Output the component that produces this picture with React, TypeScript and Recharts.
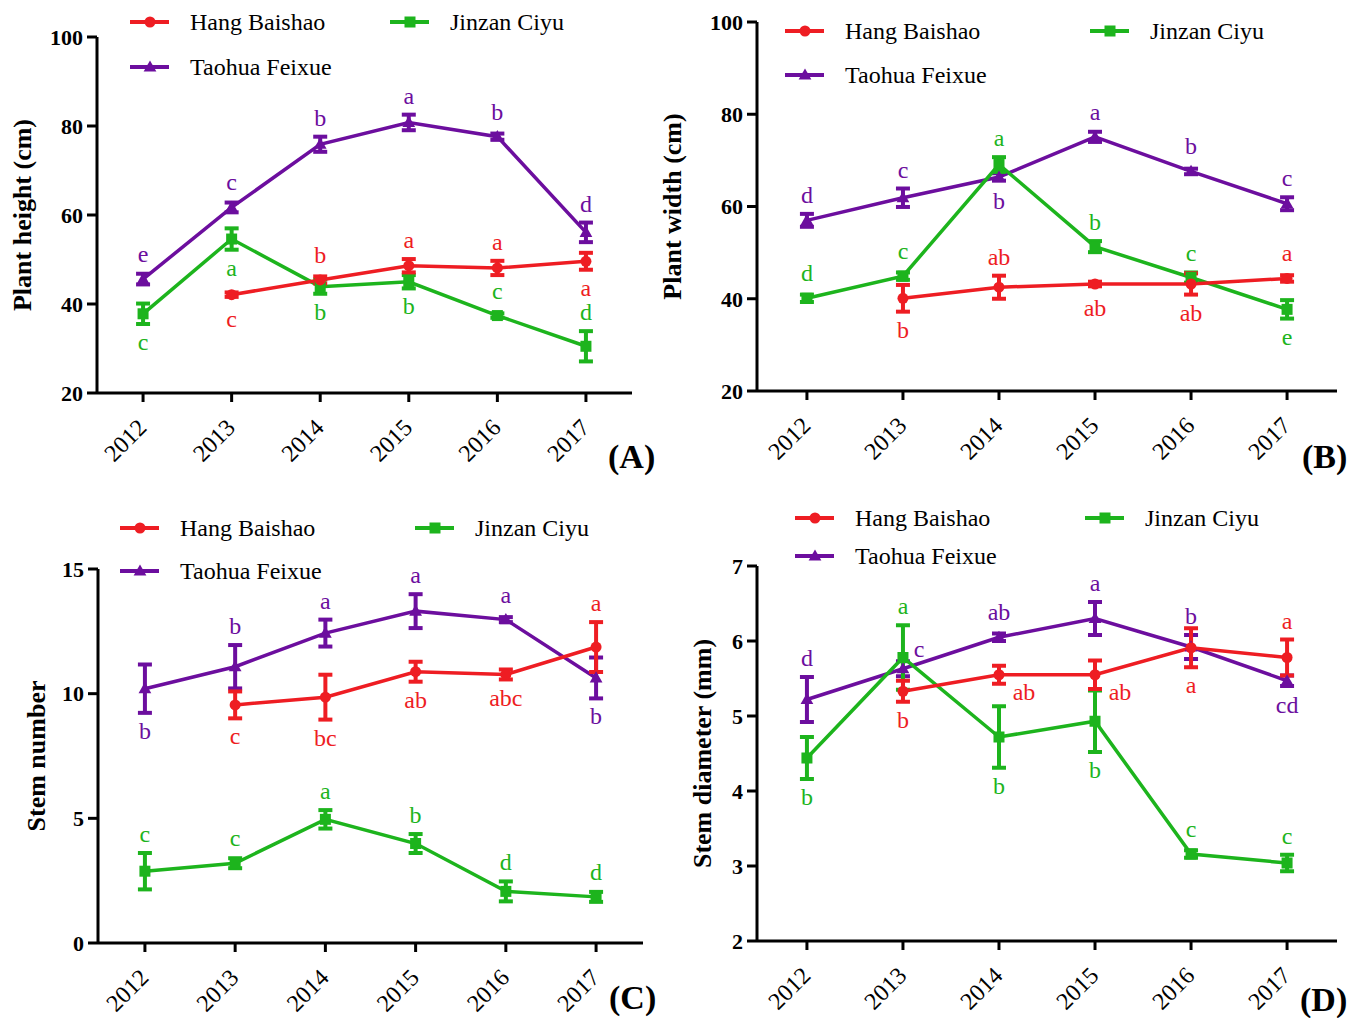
import React from 'react';
import { LineChart, Line, XAxis, YAxis, ErrorBar, LabelList, Legend, Label } from 'recharts';

// ---------- data ----------
const years = [2012, 2013, 2014, 2015, 2016, 2017];
const seriesNames = ['Hang Baishao', 'Jinzan Ciyu', 'Taohua Feixue'];

// (A) Plant height (cm)
const heightTicks = [20, 40, 60, 80, 100];
const heightHang = [null, 42.1, 45.4, 48.6, 48.1, 49.6];
const heightHangErr = [null, 0.5, 0.8, 1.5, 1.6, 1.9];
const heightHangLetters = ['', 'c', 'b', 'a', 'a', 'a'];
const heightHangSide = ['', 'b', 't', 't', 't', 'b'];
const heightJin = [37.8, 54.6, 43.9, 45.0, 37.4, 30.5];
const heightJinErr = [2.3, 2.4, 1.6, 1.5, 0.5, 3.4];
const heightJinLetters = ['c', 'a', 'b', 'b', 'c', 'd'];
const heightJinSide = ['b', 'b', 'b', 'b', 't', 't'];
const heightTao = [45.6, 61.7, 75.9, 80.8, 77.6, 56.1];
const heightTaoErr = [1.2, 1.1, 1.7, 1.75, 0.7, 2.2];
const heightTaoLetters = ['e', 'c', 'b', 'a', 'b', 'd'];
const heightTaoSide = ['t', 't', 't', 't', 't', 't'];

// (B) Plant width (cm)
const widthTicks = [20, 40, 60, 80, 100];
const widthHang = [null, 40.1, 42.5, 43.2, 43.2, 44.4];
const widthHangErr = [null, 2.9, 2.5, 0.5, 2.3, 0.7];
const widthHangLetters = ['', 'b', 'ab', 'ab', 'ab', 'a'];
const widthHangSide = ['', 'b', 't', 'b', 'b', 't'];
const widthJin = [40.1, 44.9, 69.1, 51.3, 44.6, 37.7];
const widthJinErr = [0.8, 0.8, 1.6, 1.2, 1.1, 2.0];
const widthJinLetters = ['d', 'c', 'a', 'b', 'c', 'e'];
const widthJinSide = ['t', 't', 't', 't', 't', 'b'];
const widthTao = [57.0, 61.9, 66.4, 75.1, 67.6, 60.6];
const widthTaoErr = [1.4, 2.0, 0.8, 1.1, 0.6, 1.4];
const widthTaoLetters = ['d', 'c', 'b', 'a', 'b', 'c'];
const widthTaoSide = ['t', 't', 'b', 't', 't', 't'];

// (C) Stem number
const stemTicks = [0, 5, 10, 15];
const stemHang = [null, 9.55, 9.86, 10.88, 10.77, 11.87];
const stemHangErr = [null, 0.54, 0.9, 0.4, 0.2, 1.0];
const stemHangLetters = ['', 'c', 'bc', 'ab', 'abc', 'a'];
const stemHangSide = ['', 'b', 'b', 'b', 'b', 't'];
const stemJin = [2.88, 3.2, 4.96, 3.99, 2.07, 1.85];
const stemJinErr = [0.73, 0.2, 0.37, 0.38, 0.4, 0.2];
const stemJinLetters = ['c', 'c', 'a', 'b', 'd', 'd'];
const stemJinSide = ['t', 't', 't', 't', 't', 't'];
const stemTao = [10.2, 11.08, 12.43, 13.31, 12.97, 10.63];
const stemTaoErr = [0.97, 0.87, 0.54, 0.68, 0.1, 0.82];
const stemTaoLetters = ['b', 'b', 'a', 'a', 'a', 'b'];
const stemTaoSide = ['b', 't', 't', 't', 't', 'b'];

// (D) Stem diameter (mm)
const diamTicks = [2, 3, 4, 5, 6, 7];
const diamHang = [null, 5.33, 5.55, 5.55, 5.91, 5.78];
const diamHangErr = [null, 0.14, 0.12, 0.19, 0.26, 0.24];
const diamHangLetters = ['', 'b', 'ab', 'ab', 'a', 'a'];
const diamHangSide = ['', 'b', 'dr', 'dr', 'b', 't'];
const diamJin = [4.44, 5.78, 4.72, 4.93, 3.16, 3.04];
const diamJinErr = [0.28, 0.43, 0.41, 0.41, 0.05, 0.11];
const diamJinLetters = ['b', 'a', 'b', 'b', 'c', 'c'];
const diamJinSide = ['b', 't', 'b', 'b', 't', 't'];
const diamTao = [5.22, 5.63, 6.05, 6.3, 5.92, 5.47];
const diamTaoErr = [0.3, 0.1, 0.05, 0.22, 0.16, 0.07];
const diamTaoLetters = ['d', 'c', 'ab', 'a', 'b', 'cd'];
const diamTaoSide = ['t', 'ur', 't', 't', 't', 'b'];

// ---------- styles ----------
const FONT = "'Liberation Serif', 'Times New Roman', serif";
const RED = '#EE1D23';
const GREEN = '#1DB41D';
const PURPLE = '#6C0E9E';
const X_DOMAIN = [2011.48, 2017.52];
const X_AXIS_H = 70;
const Y_AXIS_W = 60;

type Row = Record<string, any>;

function buildRows(
  h: (number | null)[], he: (number | null)[], hl: string[], hs: string[],
  j: number[], je: number[], jl: string[], js: string[],
  t: number[], te: number[], tl: string[], ts: string[],
): Row[] {
  return years.map((year, i) => ({
    year,
    hang: h[i], hangErr: he[i], hangLbl: hl[i], hangSide: hs[i],
    jin: j[i], jinErr: je[i], jinLbl: jl[i], jinSide: js[i],
    tao: t[i], taoErr: te[i], taoLbl: tl[i], taoSide: ts[i],
  }));
}

const SERIES = [
  { key: 'hang', name: seriesNames[0], color: RED, shape: 'circle' },
  { key: 'jin', name: seriesNames[1], color: GREEN, shape: 'square' },
  { key: 'tao', name: seriesNames[2], color: PURPLE, shape: 'triangle' },
];

const PANELS = [
  {
    id: 'A', title: 'Plant height (cm)', yDomain: [20, 100], yTicks: heightTicks,
    rows: buildRows(heightHang, heightHangErr, heightHangLetters, heightHangSide,
      heightJin, heightJinErr, heightJinLetters, heightJinSide,
      heightTao, heightTaoErr, heightTaoLetters, heightTaoSide),
    left: 0, top: 0, width: 670, height: 490,
    margin: { top: 37, right: 38, bottom: 27, left: 37 }, titleX: 22,
    legend: { left: 130, top: 7, col: 260, row: 45 }, tag: { left: 608, top: 440 },
  },
  {
    id: 'B', title: 'Plant width (cm)', yDomain: [20, 100], yTicks: widthTicks,
    rows: buildRows(widthHang, widthHangErr, widthHangLetters, widthHangSide,
      widthJin, widthJinErr, widthJinLetters, widthJinSide,
      widthTao, widthTaoErr, widthTaoLetters, widthTaoSide),
    left: 650, top: 0, width: 701, height: 490,
    margin: { top: 22, right: 14, bottom: 29, left: 47 }, titleX: 22,
    legend: { left: 135, top: 16, col: 305, row: 44 }, tag: { left: 1302, top: 440 },
  },
  {
    id: 'C', title: 'Stem number', yDomain: [0, 15], yTicks: stemTicks,
    rows: buildRows(stemHang, stemHangErr, stemHangLetters, stemHangSide,
      stemJin, stemJinErr, stemJinLetters, stemJinSide,
      stemTao, stemTaoErr, stemTaoLetters, stemTaoSide),
    left: 0, top: 490, width: 670, height: 528,
    margin: { top: 79, right: 27, bottom: 5, left: 38 }, titleX: 36,
    legend: { left: 120, top: 23, col: 295, row: 43 }, tag: { left: 609, top: 981 },
  },
  {
    id: 'D', title: 'Stem diameter (mm)', yDomain: [2, 7], yTicks: diamTicks,
    rows: buildRows(diamHang, diamHangErr, diamHangLetters, diamHangSide,
      diamJin, diamJinErr, diamJinLetters, diamJinSide,
      diamTao, diamTaoErr, diamTaoLetters, diamTaoSide),
    left: 660, top: 490, width: 691, height: 528,
    margin: { top: 76, right: 14, bottom: 7, left: 37 }, titleX: 42,
    legend: { left: 135, top: 13, col: 290, row: 38 }, tag: { left: 1300, top: 983 },
  },
];

function Marker({ shape, cx, cy, color, s }: any) {
  if (shape === 'circle') return <circle cx={cx} cy={cy} r={s * 0.5} fill={color} />;
  if (shape === 'square') return <rect x={cx - s / 2} y={cy - s / 2} width={s} height={s} fill={color} />;
  return (
    <polygon
      points={`${cx},${cy - s * 0.6} ${cx - s * 0.58},${cy + s * 0.42} ${cx + s * 0.58},${cy + s * 0.42}`}
      fill={color}
    />
  );
}

const makeDot = (shape: string, color: string) => (p: any) => {
  const k = `dot-${shape}-${p.index}`;
  if (p.cx == null || p.cy == null || isNaN(p.cx) || isNaN(p.cy)) return <g key={k} />;
  return (
    <g key={k}>
      <Marker shape={shape} cx={p.cx} cy={p.cy} color={color} s={11} />
    </g>
  );
};

const makeLetters = (rows: Row[], key: string, color: string, ppu: number) => (props: any) => {
  const { x, y, index } = props;
  const row = rows[index];
  if (!row || x == null || y == null || isNaN(x) || isNaN(y)) return null;
  const letter = row[key + 'Lbl'];
  const side = row[key + 'Side'];
  const errPx = Math.max((row[key + 'Err'] ?? 0) * ppu, 6);
  let tx = x;
  let ty = y;
  if (side === 't') ty = y - errPx - 11;
  else if (side === 'b') ty = y + errPx + 26;
  else if (side === 'ur') { tx = x + 16; ty = y - 12; }
  else if (side === 'dr') { tx = x + 25; ty = y + 25; }
  return (
    <text x={tx} y={ty} textAnchor="middle" fill={color} fontFamily={FONT} fontSize={24}>
      {letter}
    </text>
  );
};

const XTick = (props: any) => {
  const { x, y, payload } = props;
  return (
    <g transform={`translate(${x - 1},${y + 21})`}>
      <text x={0} y={0} dy="0.35em" textAnchor="end" transform="rotate(-45)"
        fontFamily={FONT} fontSize={24} fill="#000">
        {payload.value}
      </text>
    </g>
  );
};

const makeLegend = (col: number, row: number) => (props: any) => {
  const items = SERIES.map((s) => ({
    ...s,
    entry: (props.payload || []).find((p: any) => p.dataKey === s.key),
  }));
  return (
    <svg width={col + 240} height={row + 30} style={{ overflow: 'visible', display: 'block' }}>
      {items.map((it, i) => {
        const x0 = i === 1 ? col : 0;
        const y0 = (i === 2 ? row : 0) + 15;
        const label = it.entry ? it.entry.value : it.name;
        return (
          <g key={it.key}>
            <line x1={x0} y1={y0} x2={x0 + 39} y2={y0} stroke={it.color} strokeWidth={4} />
            <Marker shape={it.shape} cx={x0 + 20} cy={y0} color={it.color} s={11} />
            <text x={x0 + 60} y={y0} dy="0.35em" fontFamily={FONT} fontSize={24} fill="#000">
              {label}
            </text>
          </g>
        );
      })}
    </svg>
  );
};

const makeTitle = (title: string, titleX: number) => (props: any) => {
  const vb = props.viewBox || {};
  const cy = (vb.y ?? 0) + (vb.height ?? 0) / 2;
  return (
    <text x={titleX} y={cy} transform={`rotate(-90, ${titleX}, ${cy})`} textAnchor="middle"
      dominantBaseline="central" fontFamily={FONT} fontSize={26} fontWeight="bold" fill="#000">
      {title}
    </text>
  );
};

function Panel({ p }: { p: (typeof PANELS)[number] }) {
  const plotH = p.height - p.margin.top - p.margin.bottom - X_AXIS_H;
  const ppu = plotH / (p.yDomain[1] - p.yDomain[0]);
  const drawOrder = [SERIES[2], SERIES[1], SERIES[0]];
  return (
    <div style={{ position: 'absolute', left: p.left, top: p.top, width: p.width, height: p.height }}>
      <LineChart width={p.width} height={p.height} data={p.rows} margin={p.margin}>
        <XAxis type="number" dataKey="year" domain={X_DOMAIN} ticks={years} interval={0}
          allowDataOverflow height={X_AXIS_H}
          axisLine={{ stroke: '#000', strokeWidth: 3 }} tickLine={{ stroke: '#000', strokeWidth: 3 }}
          tickSize={9} tickMargin={0} tick={<XTick />} />
        <YAxis type="number" domain={p.yDomain} ticks={p.yTicks} interval={0} allowDataOverflow
          width={Y_AXIS_W}
          axisLine={{ stroke: '#000', strokeWidth: 3 }} tickLine={{ stroke: '#000', strokeWidth: 3 }}
          tickSize={10} tickMargin={4}
          tick={{ fontFamily: FONT, fontSize: 22, fontWeight: 'bold', fill: '#000' }}>
          <Label content={makeTitle(p.title, p.titleX)} />
        </YAxis>
        {drawOrder.map((s) => {
          const rows = p.rows.filter((r) => r[s.key] != null);
          return (
            <Line key={s.key} data={rows} dataKey={s.key} name={s.name} type="linear"
              stroke={s.color} strokeWidth={3.5} isAnimationActive={false}
              dot={makeDot(s.shape, s.color)} activeDot={false}>
              <ErrorBar dataKey={s.key + 'Err'} direction="y" width={7} strokeWidth={4} stroke={s.color} />
              <LabelList dataKey={s.key + 'Lbl'} content={makeLetters(rows, s.key, s.color, ppu)} />
            </Line>
          );
        })}
        <Legend layout="vertical" align="center" verticalAlign="middle"
          wrapperStyle={{ position: 'absolute', left: p.legend.left, top: p.legend.top, width: 'auto', height: 'auto' }}
          content={makeLegend(p.legend.col, p.legend.row)} />
      </LineChart>
    </div>
  );
}

export default function App() {
  return (
    <div style={{ position: 'absolute', left: 0, top: 0, width: 1351, height: 1018, background: '#fff', overflow: 'hidden' }}>
      {PANELS.map((p) => (
        <Panel key={p.id} p={p} />
      ))}
      {PANELS.map((p) => (
        <div key={'tag' + p.id} style={{
          position: 'absolute', left: p.tag.left, top: p.tag.top, fontFamily: FONT,
          fontSize: 34, fontWeight: 'bold', lineHeight: 1, color: '#000',
        }}>
          ({p.id})
        </div>
      ))}
    </div>
  );
}
